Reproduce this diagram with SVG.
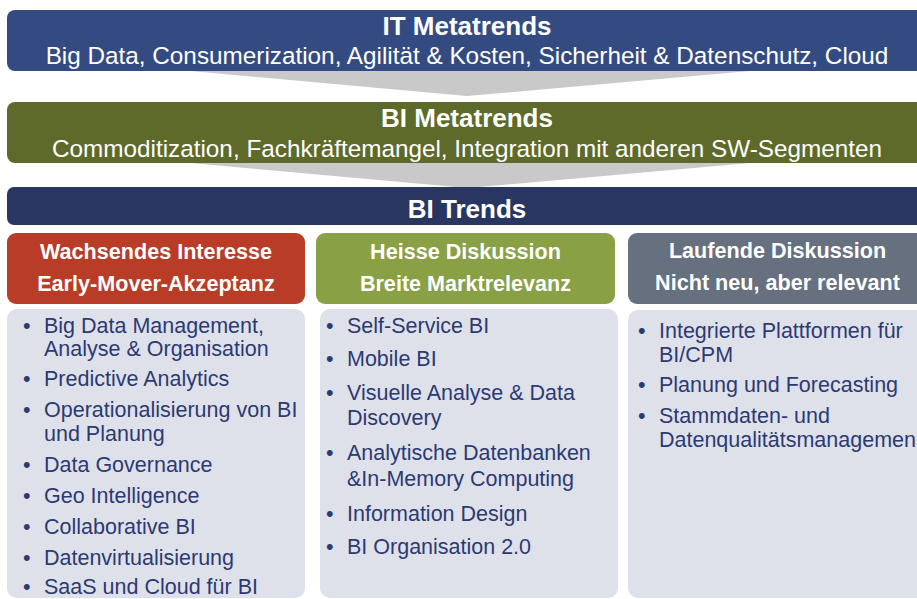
<svg xmlns="http://www.w3.org/2000/svg" width="917" height="599" viewBox="0 0 917 599">
  <style>
    text { font-family: "Liberation Sans", Arial, sans-serif; }
    .bar-title { font-size: 26px; font-weight: bold; fill: #ffffff; text-anchor: middle; }
    .bar-sub { font-size: 24.3px; fill: #ffffff; text-anchor: middle; }
    .head { font-size: 21.6px; font-weight: bold; fill: #ffffff; text-anchor: middle; }
    .item { font-size: 21.5px; fill: #2c3a72; }
    .panel { fill: #dfe1ea; }
    .funnel { fill: #c9c9c9; }
  </style>

  <!-- Connectors: funnel wedges between the trend layers -->
  <g id="connectors">
    <polygon class="funnel" points="191,71 750,71 467,96"/>
    <polygon class="funnel" points="191,163 750,163 467,188"/>
  </g>

  <!-- Layer 1 -->
  <g id="it-metatrends">
    <rect x="7" y="10" width="920" height="61" rx="8" fill="#344b82"/>
    <text class="bar-title" x="467" y="35">IT Metatrends</text>
    <text class="bar-sub" x="467" y="64">Big Data, Consumerization, Agilität &amp; Kosten, Sicherheit &amp; Datenschutz, Cloud</text>
  </g>

  <!-- Layer 2 -->
  <g id="bi-metatrends">
    <rect x="7" y="102" width="920" height="61" rx="8" fill="#5e6a29"/>
    <text class="bar-title" x="467" y="127">BI Metatrends</text>
    <text class="bar-sub" x="467" y="157">Commoditization, Fachkräftemangel, Integration mit anderen SW-Segmenten</text>
  </g>

  <!-- Layer 3 -->
  <g id="bi-trends">
    <rect x="7" y="187" width="920" height="38" rx="7" fill="#283661"/>
    <text class="bar-title" x="467" y="218">BI Trends</text>
  </g>

  <!-- Column 1 -->
  <g id="col-wachsend">
    <rect x="7" y="233" width="298" height="71" rx="9" fill="#b83c26"/>
    <text class="head" x="156" y="259">Wachsendes Interesse</text>
    <text class="head" x="156" y="291">Early-Mover-Akzeptanz</text>
  </g>
  <g id="list-wachsend">
    <rect class="panel" x="7" y="309" width="298" height="289" rx="10"/>
    <text class="item">
      <tspan x="23" y="333">•</tspan><tspan x="44" y="333">Big Data Management,</tspan>
      <tspan x="44" y="356">Analyse &amp; Organisation</tspan>
      <tspan x="23" y="386">•</tspan><tspan x="44" y="386">Predictive Analytics</tspan>
      <tspan x="23" y="417">•</tspan><tspan x="44" y="417">Operationalisierung von BI</tspan>
      <tspan x="44" y="441">und Planung</tspan>
      <tspan x="23" y="472">•</tspan><tspan x="44" y="472">Data Governance</tspan>
      <tspan x="23" y="503">•</tspan><tspan x="44" y="503">Geo Intelligence</tspan>
      <tspan x="23" y="534">•</tspan><tspan x="44" y="534">Collaborative BI</tspan>
      <tspan x="23" y="565">•</tspan><tspan x="44" y="565">Datenvirtualisierung</tspan>
      <tspan x="23" y="594">•</tspan><tspan x="44" y="594">SaaS und Cloud für BI</tspan>
    </text>
  </g>

  <!-- Column 2 -->
  <g id="col-heiss">
    <rect x="316" y="233" width="299" height="71" rx="9" fill="#8aa045"/>
    <text class="head" x="465.5" y="259">Heisse Diskussion</text>
    <text class="head" x="465.5" y="291">Breite Marktrelevanz</text>
  </g>
  <g id="list-heiss">
    <rect class="panel" x="320" y="309" width="298" height="289" rx="10"/>
    <text class="item">
      <tspan x="326" y="333">•</tspan><tspan x="347" y="333">Self-Service BI</tspan>
      <tspan x="326" y="366">•</tspan><tspan x="347" y="366">Mobile BI</tspan>
      <tspan x="326" y="400">•</tspan><tspan x="347" y="400">Visuelle Analyse &amp; Data</tspan>
      <tspan x="347" y="425">Discovery</tspan>
      <tspan x="326" y="460">•</tspan><tspan x="347" y="460">Analytische Datenbanken</tspan>
      <tspan x="347" y="486">&amp;In-Memory Computing</tspan>
      <tspan x="326" y="521">•</tspan><tspan x="347" y="521">Information Design</tspan>
      <tspan x="326" y="554">•</tspan><tspan x="347" y="554">BI Organisation 2.0</tspan>
    </text>
  </g>

  <!-- Column 3 -->
  <g id="col-laufend">
    <rect x="628" y="233" width="299" height="71" rx="9" fill="#67707f"/>
    <text class="head" x="777.5" y="258">Laufende Diskussion</text>
    <text class="head" x="777.5" y="290">Nicht neu, aber relevant</text>
  </g>
  <g id="list-laufend">
    <rect class="panel" x="628" y="310" width="299" height="288" rx="10"/>
    <text class="item">
      <tspan x="638" y="338">•</tspan><tspan x="659" y="338">Integrierte Plattformen für</tspan>
      <tspan x="659" y="362">BI/CPM</tspan>
      <tspan x="638" y="392">•</tspan><tspan x="659" y="392">Planung und Forecasting</tspan>
      <tspan x="638" y="423">•</tspan><tspan x="659" y="423">Stammdaten- und</tspan>
      <tspan x="659" y="447">Datenqualitätsmanagemen</tspan>
    </text>
  </g>
</svg>
